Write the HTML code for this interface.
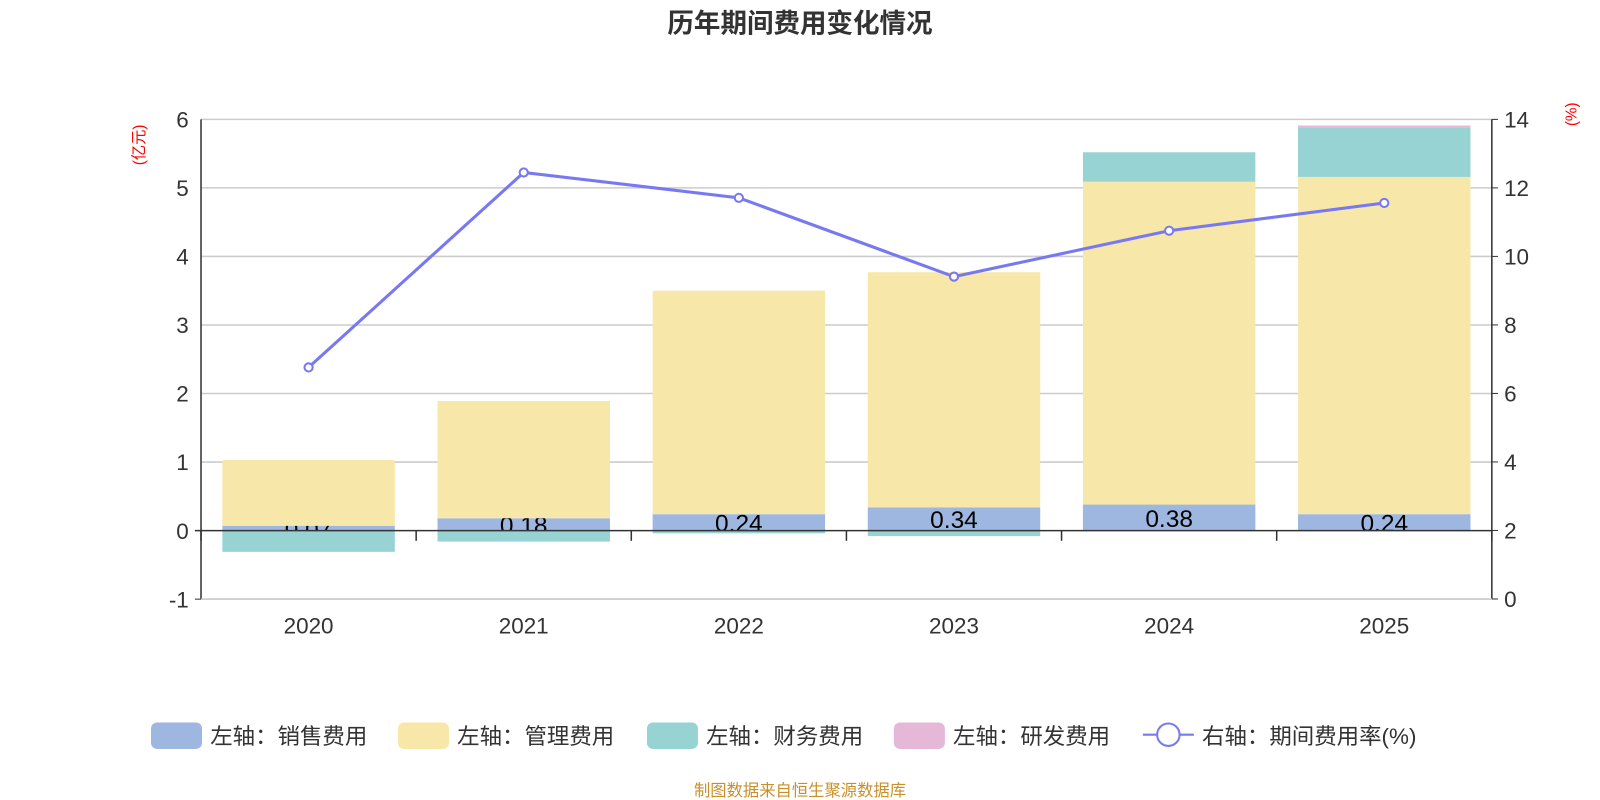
<!DOCTYPE html>
<html><head><meta charset="utf-8"><style>
body{margin:0;background:#fff;}
svg{display:block;font-family:"Liberation Sans","Noto Sans CJK SC",sans-serif;}
</style></head><body>
<svg id="c" width="1600" height="800">
<g transform="scale(1.020408)">
<text x="784" y="32" text-anchor="middle" font-size="26" font-weight="bold" fill="#333">历年期间费用变化情况</text>
<text transform="translate(141,142) rotate(-90)" text-anchor="middle" font-size="15" fill="#f00">(亿元)</text>
<text transform="translate(1545,112) rotate(-90)" text-anchor="middle" font-size="15" fill="#f00">(%)</text>
<g id="grid"></g><g id="bars"></g><g id="axes"></g><g id="line"></g><g id="legend"></g>
<text x="784" y="780" text-anchor="middle" font-size="16" fill="#c8902a">制图数据来自恒生聚源数据库</text>
</g>
</svg>
<script>
const years=["2020","2021","2022","2023","2024","2025"];
const sales=[0.07,0.18,0.24,0.34,0.38,0.24];
const admin=[0.96,1.71,3.26,3.43,4.71,4.92];
const finance=[-0.31,-0.16,-0.04,-0.08,0.43,0.72];
const rnd=[0,0,0,0,0,0.03];
const rate=[6.76,12.45,11.71,9.41,10.75,11.56];
const leftTicks=[-1,0,1,2,3,4,5,6];
const rightTicks=[0,2,4,6,8,10,12,14];

const NS="http://www.w3.org/2000/svg";
const X0=197,X1=1462,YT=117,YB=587;
const yL=v=>520-(v*67.17);
const yR=v=>YB-v*(YB-YT)/14;
const bw=(X1-X0)/years.length;
const xc=i=>X0+bw*(i+0.5);
function mk(t,a,p){const e=document.createElementNS(NS,t);for(const k in a)e.setAttribute(k,a[k]);p.appendChild(e);return e;}
const grid=document.getElementById('grid'),bars=document.getElementById('bars'),axes=document.getElementById('axes'),line=document.getElementById('line'),leg=document.getElementById('legend');
leftTicks.forEach(v=>{
  if(v!==0){const g=mk('line',{x1:X0,x2:X1,y1:yL(v),y2:yL(v),stroke:'#ccc','stroke-width':1.5},grid);
  
  }
  const t=mk('text',{x:X0-12,y:yL(v)+8,'text-anchor':'end','font-size':22,fill:'#333'},axes);t.textContent=v;
  
  
});
rightTicks.forEach(v=>{
  const t=mk('text',{x:X1+12,y:yR(v)+8,'font-size':22,fill:'#333'},axes);t.textContent=v;
  
  
  mk('line',{x1:X1,x2:X1+6,y1:yR(v),y2:yR(v),stroke:'#333'},axes);
});
mk('line',{x1:X0,x2:X0,y1:YT,y2:YB,stroke:'#333','stroke-width':1.5},axes);
mk('line',{x1:X1,x2:X1,y1:YT,y2:YB,stroke:'#333','stroke-width':1.5},axes);
mk('line',{x1:X0,x2:X1,y1:YB,y2:YB,stroke:'#ccc','stroke-width':1.5},axes);
mk('line',{x1:X0-6,x2:X1,y1:yL(0),y2:yL(0),stroke:'#333','stroke-width':1.5},axes);
mk('line',{x1:X0-6,x2:X0,y1:yL(-1),y2:yL(-1),stroke:'#333'},axes);
for(let i=0;i<=years.length;i++)mk('line',{x1:X0+bw*i,x2:X0+bw*i,y1:yL(0),y2:yL(0)+10,stroke:'#333','stroke-width':1.5},axes);
const W=169;
years.forEach((y,i)=>{
  const x=xc(i)-W/2;
  let pos=0,neg=0;
  const segs=[[sales[i],'#9db7e1','sales'],[admin[i],'#f7e7a9','admin'],[finance[i],'#98d3d4','finance'],[rnd[i],'#e6b8d8','rnd']];
  segs.forEach(([v,c,n])=>{
    if(!v)return;
    let a,b;
    if(v>=0){a=pos;b=pos+v;pos=b;}else{a=neg;b=neg+v;neg=b;}
    const r=mk('rect',{x:x,width:W,y:Math.min(yL(a),yL(b)),height:Math.abs(yL(a)-yL(b)),fill:c},bars);
    
    
  });
  const cp=mk('clipPath',{id:'cp'+i},bars);
  mk('rect',{x:x,width:W,y:yL(sales[i]),height:yL(0)-yL(sales[i])},cp);
  const t=mk('text',{x:xc(i),y:(yL(sales[i])+yL(0))/2+9,'text-anchor':'middle','font-size':24,fill:'#000','clip-path':'url(#cp'+i+')'},bars);
  t.textContent=sales[i].toFixed(2);
  
  
  const xl=mk('text',{x:xc(i),y:621,'text-anchor':'middle','font-size':22,fill:'#333'},axes);xl.textContent=y;
  
  
});
const pl=mk('polyline',{points:rate.map((v,i)=>xc(i)+','+yR(v)).join(' '),fill:'none',stroke:'#7879f0','stroke-width':3},line);


rate.forEach((v,i)=>{const c=mk('circle',{cx:xc(i),cy:yR(v),r:4,fill:'#fff',stroke:'#7879f0','stroke-width':2},line);
  
  });
const items=[['左轴：销售费用','#9db7e1',148],['左轴：管理费用','#f7e7a9',390],['左轴：财务费用','#98d3d4',634],['左轴：研发费用','#e6b8d8',876]];
items.forEach(([n,c,x])=>{
  const g=mk('g',{},leg);
  
  
  mk('rect',{x:x,y:708,width:50,height:26,rx:6,fill:c},g);
  const t=mk('text',{x:x+58,y:729,'font-size':22,fill:'#333'},g);t.textContent=n;
});
const g=mk('g',{},leg);


mk('line',{x1:1120,x2:1170,y1:720,y2:720,stroke:'#7879f0','stroke-width':2},g);
mk('circle',{cx:1145,cy:720,r:11,fill:'#fff',stroke:'#7879f0','stroke-width':2},g);
const t=mk('text',{x:1178,y:729,'font-size':22,fill:'#333'},g);t.textContent='右轴：期间费用率(%)';
</script>
</body></html>
